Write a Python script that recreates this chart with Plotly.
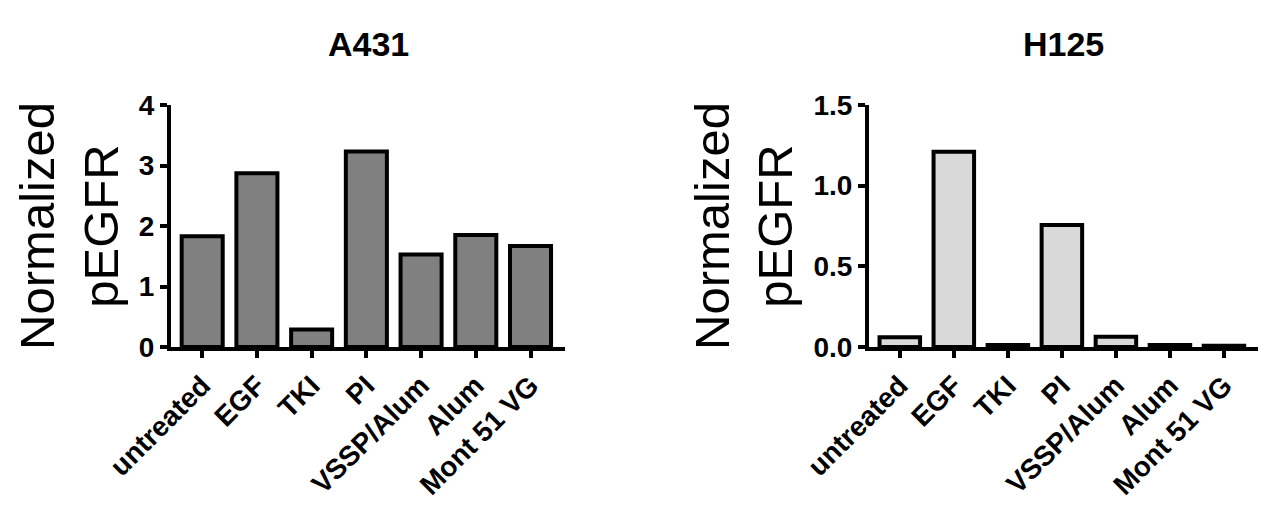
import plotly.graph_objects as go
from plotly.subplots import make_subplots

categories = ["untreated", "EGF", "TKI", "PI", "VSSP/Alum", "Alum", "Mont 51 VG"]
a431_values = [1.83, 2.87, 0.29, 3.23, 1.53, 1.85, 1.67]
h125_values = [0.06, 1.21, 0.012, 0.756, 0.064, 0.012, 0.008]
titles = ["A431", "H125"]
y_title = "Normalized<br>pEGFR"

FONT = "Arial, 'Liberation Sans', sans-serif"

fig = make_subplots(rows=1, cols=2)

fig.add_trace(go.Bar(x=categories, y=a431_values, width=0.75,
                     marker=dict(color="#808080", line=dict(color="black", width=4))),
              row=1, col=1)
fig.add_trace(go.Bar(x=categories, y=h125_values, width=0.75,
                     marker=dict(color="#d9d9d9", line=dict(color="black", width=4))),
              row=1, col=2)

common_x = dict(showline=True, linewidth=4, linecolor="black", ticks="outside",
                ticklen=7, tickwidth=4, tickcolor="black", tickangle=-45,
                tickfont=dict(family=FONT, size=28, color="black", weight="bold"),
                showgrid=False, zeroline=False, range=[-0.57, 6.63], fixedrange=True,
                automargin=False)
common_y = dict(showline=True, linewidth=4, linecolor="black", ticks="outside",
                ticklen=7, tickwidth=4, tickcolor="black",
                tickfont=dict(family=FONT, size=28, color="black", weight="bold"),
                showgrid=False, zeroline=False, automargin=False,
                title=dict(text=y_title, font=dict(family=FONT, size=49, color="black"), standoff=6))

fig.update_layout(
    template="none",
    width=1266, height=520,
    margin=dict(l=0, r=0, t=0, b=0, autoexpand=False),
    plot_bgcolor="white", paper_bgcolor="white",
    showlegend=False,
    bargap=0.25,
    xaxis=dict(domain=[171/1266, 565/1266], **common_x),
    xaxis2=dict(domain=[869/1266, 1258/1266], **common_x),
    yaxis=dict(domain=[(520-347)/520, (520-105)/520], range=[0, 4], tickvals=[0, 1, 2, 3, 4], **common_y),
    yaxis2=dict(domain=[(520-347)/520, (520-105)/520], range=[0, 1.5], tickvals=[0, 0.5, 1.0, 1.5],
                tickformat=".1f", **common_y),
)

for i, t in enumerate(titles):
    xr = "x domain" if i == 0 else "x2 domain"
    fig.add_annotation(text=t, xref=xr, yref="paper", x=0.5, y=1 - 44/520,
                       xanchor="center", yanchor="middle", showarrow=False,
                       font=dict(family=FONT, size=34, color="black", weight="bold"))

fig.write_html("out.html")
